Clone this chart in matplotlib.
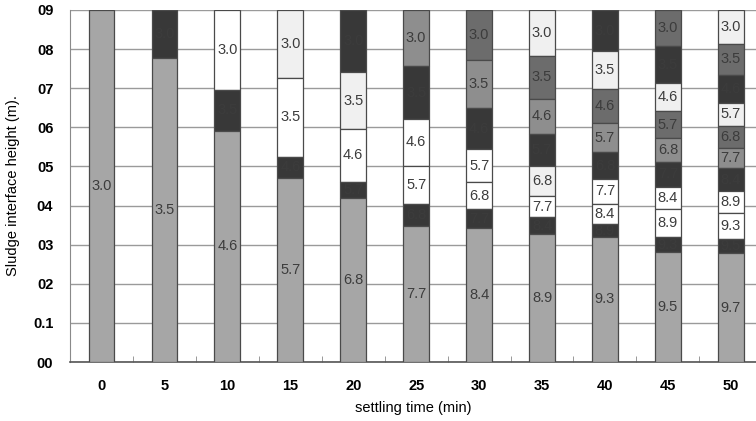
import matplotlib
matplotlib.use("Agg")
import matplotlib.pyplot as plt
from matplotlib.ticker import FixedLocator

# ---- data ----
times = [0, 5, 10, 15, 20, 25, 30, 35, 40, 45, 50]
concentrations = ["3.0", "3.5", "4.6", "5.7", "6.8", "7.7", "8.4", "8.9", "9.3", "9.5", "9.7"]
column_top = 0.9
# interface heights (m) between zones, top to bottom, for each settling time
interfaces = [
    [],
    [0.778],
    [0.696, 0.591],
    [0.727, 0.525, 0.471],
    [0.742, 0.595, 0.461, 0.420],
    [0.757, 0.621, 0.502, 0.403, 0.349],
    [0.772, 0.649, 0.545, 0.459, 0.391, 0.342],
    [0.783, 0.673, 0.583, 0.500, 0.425, 0.370, 0.327],
    [0.795, 0.697, 0.610, 0.536, 0.468, 0.404, 0.352, 0.320],
    [0.808, 0.713, 0.642, 0.572, 0.512, 0.448, 0.390, 0.320, 0.280],
    [0.813, 0.734, 0.663, 0.604, 0.547, 0.495, 0.438, 0.380, 0.315, 0.278],
]
ytick_labels = ["00", "0.1", "02", "03", "04", "05", "06", "07", "08", "09"]

# ---- styles ----
shade = {"G": "#a6a6a6", "D": "#383838", "M": "#6c6c6c", "m": "#8e8e8e",
         "L": "#f0f0f0", "W": "#ffffff"}
shade_codes = [
    "G", "DG", "WDG", "LWDG", "DLWDG", "mDWWDG", "MmDWWDG", "LMmDLWDG",
    "DLMmDWWDG", "MDLMmDWWDG", "LMDLMmDWWDG",
]

fig = plt.figure(figsize=(7.56, 4.21), dpi=100)
ax = fig.add_axes([70 / 756, 59 / 421, 686 / 756, 352 / 421])
font = "Liberation Sans"

bar_w = 0.41
for i, t in enumerate(times):
    bounds = [column_top] + interfaces[i] + [0.0]
    for j in range(len(bounds) - 1):
        top, bot = bounds[j], bounds[j + 1]
        ax.bar(i, top - bot, bottom=bot, width=bar_w,
               color=shade[shade_codes[i][j]], edgecolor="#4a4a4a",
               linewidth=0.9, zorder=3)
        ax.text(i, (top + bot) / 2, concentrations[j], ha="center", va="center",
                fontsize=10.5, color="#3c3c3c", family=font, zorder=4)

ax.set_xlim(-0.5, 10.4)
ax.set_ylim(0, 0.9)
ax.set_yticks([k / 10 for k in range(10)])
ax.set_yticklabels(ytick_labels, family=font, fontsize=10.5, fontweight="bold")
ax.set_xticks(range(len(times)))
ax.set_xticklabels([str(t) for t in times], family=font, fontsize=10.5, fontweight="bold")
ax.tick_params(axis="x", which="major", length=0, pad=12)
ax.tick_params(axis="y", which="major", length=0, pad=12)
ax.xaxis.set_minor_locator(FixedLocator([k + 0.5 for k in range(-1, 11)]))
ax.tick_params(axis="x", which="minor", direction="in", length=4, color="#888888")

ax.yaxis.grid(True, color="#9a9a9a", linewidth=1.0, zorder=0)
ax.set_axisbelow(True)
for s in ["top", "right"]:
    ax.spines[s].set_visible(False)
ax.spines["left"].set_color("#8a8a8a")
ax.spines["bottom"].set_color("#555555")
ax.spines["bottom"].set_linewidth(1.2)

ax.set_ylabel("Sludge interface height (m).", family=font, fontsize=10.5, labelpad=9)
ax.set_xlabel("settling time (min)", family=font, fontsize=10.5, labelpad=6)

fig.savefig("out.png", dpi=100)
